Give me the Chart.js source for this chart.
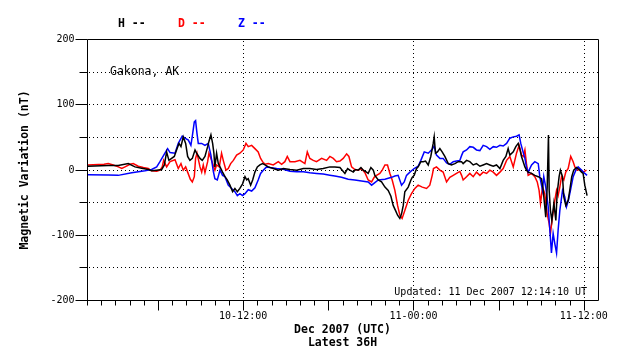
<!DOCTYPE html>
<html>
<head>
<meta charset="utf-8">
<script src="https://cdn.jsdelivr.net/npm/chart.js@4/dist/chart.umd.min.js"></script>
<style>
  html, body { margin: 0; padding: 0; background: #fff; }
  canvas { display: block; }
</style>
</head>
<body>
<canvas id="magChart" width="638" height="359"></canvas>
<script>
// hours since 10 Dec 01:00 UTC, values in nT
const hHours = [0.05,1.5,2.2,2.91,3.38,3.85,4.32,4.55,4.91,5.26,5.45,5.61,5.77,5.96,6.15,6.31,6.48,6.62,6.78,6.95,7.09,7.25,7.42,7.61,7.72,7.96,8.12,8.31,8.5,8.59,8.73,8.85,8.94,9.01,9.13,9.25,9.37,9.55,9.72,9.88,10.07,10.26,10.42,10.59,10.77,10.96,11.13,11.25,11.36,11.53,11.67,11.83,12.0,12.18,12.37,12.54,12.77,13.12,13.48,13.83,14.3,14.77,15.24,15.7,16.17,16.64,17.11,17.46,17.82,17.98,18.17,18.36,18.52,18.76,18.92,19.11,19.3,19.46,19.69,19.81,20.0,20.17,20.28,20.52,20.75,20.99,21.22,21.41,21.57,21.74,21.88,22.04,22.16,22.28,22.39,22.63,22.82,22.91,23.05,23.22,23.33,23.52,23.69,23.85,24.04,24.22,24.39,24.46,24.55,24.69,24.86,25.02,25.21,25.45,25.68,25.92,26.15,26.39,26.5,26.74,26.97,27.21,27.44,27.68,27.91,28.15,28.38,28.62,28.85,29.09,29.32,29.51,29.67,29.79,30.03,30.21,30.38,30.49,30.61,30.85,30.96,31.08,31.32,31.55,31.79,32.02,32.14,32.32,32.42,32.51,32.56,32.65,32.75,32.89,33.03,33.12,33.26,33.35,33.5,33.59,33.73,33.9,34.01,34.15,34.29,34.48,34.67,34.84,34.95,35.07,35.23];
const hValues = [5,6,6,9,4,2,0,-2,-1,0,7,27,14,17,20,30,40,35,50,40,20,14,17,30,25,17,14,20,35,43,53,40,25,4,25,9,4,-4,-11,-16,-24,-34,-29,-34,-29,-22,-11,-16,-14,-24,-16,-4,4,7,9,7,4,1.5,-1,1.5,0,-1,1.5,1.5,0,1.5,4,4,3,-1,-6,1.5,-1,-4,0,-1,3,-1,-4,-6,3,-1,-9,-16,-19,-27,-32,-41,-55,-63,-70,-75,-68,-55,-34,-27,-16,-12,-9,1.5,4,12,12,13,7,20,40,50,25,27,32,27,20,9,7,9,12,12,9,14,12,7,9,5,7,9,7,5,7,1.5,14,20,32,22,27,35,40,32,20,4,-1,-4,-6,-9,-11,-14,-32,-73,-27,53,-32,-63,-78,-52,-78,-37,-11,-1,-11,-42,-55,-47,-32,-11,-1,3,0,-4,-6,-24,-40];

const dHours = [0.05,1.2,1.5,1.85,2.21,2.45,2.68,3.03,3.26,3.61,3.97,4.32,4.55,4.91,5.14,5.3,5.4,5.61,5.85,6.2,6.43,6.62,6.78,6.95,7.09,7.28,7.42,7.56,7.65,7.75,7.96,8.08,8.19,8.31,8.5,8.59,8.73,8.87,9.01,9.13,9.32,9.48,9.6,9.79,9.95,10.12,10.31,10.54,10.77,11.01,11.2,11.36,11.6,11.83,12.06,12.23,12.37,12.54,12.77,13.12,13.48,13.71,13.94,14.11,14.3,14.65,15.0,15.35,15.52,15.7,15.94,16.17,16.53,16.88,17.11,17.35,17.58,17.82,18.05,18.29,18.45,18.64,18.87,19.11,19.34,19.58,19.81,20.05,20.23,20.4,20.63,20.8,20.99,21.17,21.34,21.5,21.69,21.88,22.04,22.2,22.39,22.63,22.86,23.1,23.33,23.62,23.92,24.15,24.32,24.41,24.62,24.86,25.09,25.33,25.56,25.8,26.03,26.27,26.39,26.5,26.74,26.97,27.21,27.44,27.68,27.91,28.15,28.38,28.62,28.85,29.09,29.32,29.56,29.79,30.03,30.26,30.44,30.61,30.73,30.85,30.96,31.08,31.32,31.55,31.72,31.85,31.95,32.09,32.25,32.42,32.56,32.65,32.79,32.96,33.08,33.19,33.31,33.43,33.59,33.73,33.9,34.08,34.25,34.37,34.53,34.72,34.95,35.19];
const dValues = [7,8,9,7,4,1.5,4,8,9,5,3,1.5,-2,-2.6,-1,4,14,4,12,15,1.5,9,-1,4,-4,-15,-19,-11,17,25,4,-4,7,-5,12,25,17,8,-1,7,4,25,14,-1,1.5,9,14,22,25,30,40,35,37,32,27,17,12,8,9,7,12,8,12,20,12,12,14,9,27,17,14,12,17,14,20,17,12,13,17,24,20,4,0,-1,1.5,-5,-16,-19,-12,-9,-6,-1,7,7,-6,-16,-32,-55,-70,-75,-63,-47,-37,-29,-24,-27,-29,-24,-9,1.5,4,-1,-4,-19,-12,-9,-6,-3,-9,-16,-11,-6,-11,-4,-9,-4,-6,-1,-4,-9,-4,1.5,14,20,4,25,37,22,20,30,9,-9,-6,-11,-19,-32,-52,-27,-37,-68,-83,-98,-73,-47,-32,-40,-27,-11,-16,-4,1.5,20,12,4,-1,0,-4,-1];

const zHours = [0.05,1.5,2.2,3.15,4.08,4.55,4.91,5.14,5.49,5.68,5.85,6.2,6.43,6.71,6.9,7.14,7.32,7.42,7.56,7.65,7.75,7.84,8.08,8.31,8.54,8.73,8.9,9.01,9.18,9.37,9.55,9.72,9.95,10.19,10.42,10.59,10.77,10.96,11.13,11.36,11.6,11.83,12.06,12.23,12.42,12.65,12.89,13.36,13.83,14.3,14.77,15.24,15.7,16.17,16.64,17.11,17.46,17.93,18.4,18.87,19.34,19.81,20.05,20.28,20.52,20.99,21.46,21.69,21.92,22.16,22.35,22.51,22.75,23.05,23.33,23.52,23.76,24.04,24.32,24.46,24.62,24.86,25.09,25.33,25.56,25.8,26.03,26.27,26.4,26.5,26.74,26.97,27.21,27.44,27.68,27.91,28.15,28.38,28.62,28.85,29.09,29.32,29.56,29.79,30.03,30.26,30.44,30.56,30.68,30.85,30.96,31.08,31.32,31.55,31.79,31.9,32.09,32.18,32.32,32.49,32.61,32.72,32.84,32.96,33.08,33.19,33.31,33.5,33.66,33.78,33.92,34.06,34.25,34.44,34.6,34.84,35.07,35.23];
const zValues = [-8,-8.5,-9,-5,-2,0,4,12,25,32,26,25,40,51,48,45,37,51,73,75,55,40,40,37,40,22,-3,-14,-16,-1,-9,-11,-24,-29,-34,-40,-37,-40,-37,-31,-33,-28,-16,-6,-1,4,3,1.5,0.5,-2.6,-3.6,-3.6,-5,-6,-7,-8.7,-10,-12,-15,-16,-17.5,-19,-24,-20,-16,-15,-12,-10,-9,-24,-19,-9,-4,1.5,5,14,27,25,31,36,22,17,17,10,8,12,13,14,22,27,30,35,34,30,29,37,35,31,35,34,37,36,40,48,50,51,53,40,30,17,4,-4,7,12,9,-11,-32,-11,-27,-57,-93,-128,-98,-114,-128,-93,-63,-32,-42,-57,-47,-32,-11,-1,4,-1,-6,-9];

const seriesNames = ['H', 'D', 'Z'];
const seriesColors = ['#000000', '#ff0000', '#0000ff'];

const yLabelValues = [-200, -100, 0, 100, 200];
const yMinorValues = [-150, -50, 50, 150];
const yGridValues = [-150, -100, -50, 0, 50, 100, 150];
const xLabelHours = [11, 23, 35];
const xLabels = ['10-12:00', '11-00:00', '11-12:00'];
const xMajorTickHours = [5, 11, 17, 23, 29, 35];

function toPoints(hours, values) {
    return hours.map((h, i) => ({ x: h, y: values[i] }));
}

const MONO = '"DejaVu Sans Mono", "Liberation Mono", monospace';

// axes, grid and texts drawn in the style of the original plot
const magAxes = {
    id: 'magAxes',
    beforeDatasetsDraw(chart) {
        const ctx = chart.ctx;
        const a = chart.chartArea;
        const x = chart.scales.x;
        const y = chart.scales.y;
        ctx.save();
        ctx.strokeStyle = '#000';
        ctx.lineWidth = 1;
        ctx.setLineDash([1, 3]);
        yGridValues.forEach(v => {
            const py = Math.round(y.getPixelForValue(v)) + 0.5;
            ctx.beginPath();
            ctx.moveTo(a.left + 2, py);
            ctx.lineTo(a.right, py);
            ctx.stroke();
        });
        xLabelHours.forEach(h => {
            const px = Math.round(x.getPixelForValue(h)) + 0.5;
            ctx.beginPath();
            ctx.moveTo(px, a.top + 2);
            ctx.lineTo(px, a.bottom);
            ctx.stroke();
        });
        ctx.restore();
    },
    afterDraw(chart) {
        const ctx = chart.ctx;
        const a = chart.chartArea;
        const x = chart.scales.x;
        const y = chart.scales.y;
        const L = a.left + 0.5, R = a.right + 0.5, T = a.top + 0.5, B = a.bottom + 0.5;
        ctx.save();
        ctx.strokeStyle = '#000';
        ctx.lineWidth = 1;
        ctx.setLineDash([]);

        // frame
        ctx.beginPath();
        ctx.moveTo(L, T); ctx.lineTo(R, T); ctx.lineTo(R, B);
        ctx.moveTo(L, T); ctx.lineTo(L, B + 5);
        ctx.moveTo(L, B); ctx.lineTo(R, B);
        ctx.stroke();

        // y ticks
        ctx.beginPath();
        yLabelValues.forEach(v => {
            const py = Math.round(y.getPixelForValue(v)) + 0.5;
            ctx.moveTo(L - 12, py); ctx.lineTo(L, py);
        });
        yMinorValues.forEach(v => {
            const py = Math.round(y.getPixelForValue(v)) + 0.5;
            ctx.moveTo(L - 8, py); ctx.lineTo(L, py);
        });
        // x ticks, one per hour
        for (let h = 1; h < 36; h++) {
            const px = Math.round(x.getPixelForValue(h)) + 0.5;
            const len = xMajorTickHours.includes(h) ? 10 : 5;
            ctx.moveTo(px, B); ctx.lineTo(px, B + len);
        }
        ctx.stroke();

        ctx.fillStyle = '#000';
        ctx.font = '10px ' + MONO;
        ctx.textBaseline = 'middle';
        ctx.textAlign = 'right';
        yLabelValues.forEach(v => {
            ctx.fillText(String(v), L - 13, Math.round(y.getPixelForValue(v)));
        });
        ctx.textAlign = 'center';
        xLabelHours.forEach((h, i) => {
            ctx.fillText(xLabels[i], x.getPixelForValue(h), B + 16);
        });
        ctx.textAlign = 'right';
        ctx.fillText('Updated: 11 Dec 2007 12:14:10 UT', 587, 292);
        ctx.textAlign = 'left';
        ctx.font = '11.5px ' + MONO;
        ctx.fillText('Gakona, AK', 110, 72);

        ctx.font = 'bold 11.5px ' + MONO;
        ctx.textAlign = 'center';
        const cx = (a.left + a.right) / 2;
        ctx.fillText('Dec 2007 (UTC)', cx, 330);
        ctx.fillText('Latest 36H', cx, 343);

        ctx.save();
        ctx.translate(25, 170);
        ctx.rotate(-Math.PI / 2);
        ctx.fillText('Magnetic Variation (nT)', 0, 0);
        ctx.restore();

        // legend
        ctx.textAlign = 'left';
        seriesNames.forEach((name, i) => {
            ctx.fillStyle = seriesColors[i];
            ctx.fillText(name + ' --', 118 + i * 60, 24.5);
        });
        ctx.restore();
    }
};

const ctx = document.getElementById('magChart').getContext('2d');
new Chart(ctx, {
    type: 'line',
    data: {
        datasets: [
            { label: 'D', data: toPoints(dHours, dValues), borderColor: seriesColors[1], order: 3 },
            { label: 'Z', data: toPoints(zHours, zValues), borderColor: seriesColors[2], order: 2 },
            { label: 'H', data: toPoints(hHours, hValues), borderColor: seriesColors[0], order: 1 }
        ]
    },
    options: {
        responsive: false,
        animation: false,
        devicePixelRatio: 1,
        layout: { padding: { left: 87, top: 39, right: 40, bottom: 59 } },
        elements: {
            line: { borderWidth: 1.5, tension: 0, fill: false },
            point: { radius: 0 }
        },
        plugins: {
            legend: { display: false },
            tooltip: { enabled: false }
        },
        scales: {
            x: { type: 'linear', min: 0, max: 36, display: false },
            y: { type: 'linear', min: -200, max: 200, display: false }
        }
    },
    plugins: [magAxes]
});
</script>
</body>
</html>
